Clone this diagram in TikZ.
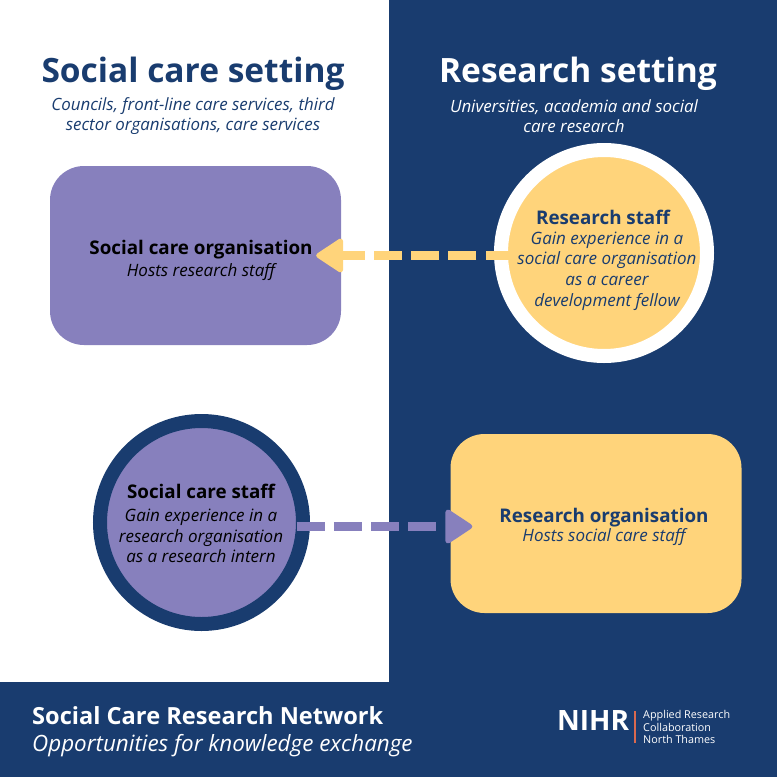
\documentclass[tikz,border=0pt]{standalone}
\usepackage{fontspec}
\setmainfont{Open Sans}
\usepackage{xcolor}
\usetikzlibrary{arrows.meta}
\definecolor{nihrblue}{HTML}{193C6F}
\definecolor{carepurple}{HTML}{8780BD}
\definecolor{resyellow}{HTML}{FFD47B}
\definecolor{nihrorange}{HTML}{D9694F}
\newcommand{\fsize}[2]{\fontsize{#1}{#2}\selectfont}
\tikzset{org box/.style = {rectangle,rounded corners=34pt,minimum width=291pt,minimum height=179pt,inner sep=0pt},
  staff ring/.style = {circle,line width=14pt,inner sep=0pt},
  head text/.style = {font=\fsize{33.5}{40}\bfseries,inner sep=0pt},
  sub text/.style = {font=\fsize{16.9}{20}\itshape,align=center,inner sep=0pt},
  name text/.style = {font=\fsize{18.8}{22}\bfseries,inner sep=0pt},
  body text/.style = {font=\fsize{17}{20.7}\itshape,align=center,inner sep=0pt},
  dash arrow/.style = {line width=9pt,dash pattern=on 28pt off 9.3pt,
    -{Triangle[length=29pt,width=37pt,line width=5pt,round]}}
  }

\begin{document}
\begin{tikzpicture}[x=1pt,y=-1pt]
        \useasboundingbox (0,0) rectangle (777,777);
        \fill[nihrblue] (389,0) rectangle (777,777);
        \fill[nihrblue] (0,682) rectangle (777,777);
        \path (195.5,255.5) node[org box,fill=carepurple] (sorg) {}
        (596,523.5) node[org box,fill=resyellow] (rorg) {}
        (604,253) node[staff ring,draw=white,fill=resyellow,minimum size=206pt] (rstaff) {}
        (201.5,522.5) node[staff ring,draw=nihrblue,fill=carepurple,minimum size=203pt] (sstaff) {};
        \draw[resyellow,dash arrow,shorten <=-19.7pt,shorten >=-25pt] (rstaff.west |- sorg.east) -- (sorg.east);
        \draw[carepurple,dash arrow,shorten <=-13.5pt,shorten >=-22pt] ([yshift=-4pt]sstaff.east) -- ([yshift=-3pt]rorg.west);
        \path (193,74) node[head text,text=nihrblue] (shead) {Social care setting}
        (578,74) node[head text,text=white] (rhead) {Research setting}
        (193,116) node[sub text,text=nihrblue] (ssub) {Councils, front-line care services, third\\sector organisations, care services}
        (574,116) node[sub text,text=white] (rsub) {Universities, academia and social\\care research}
        (201,249.5) node[name text,text=black] (sorgname) {Social care organisation}
        (201,272) node[body text,text=black] (sorgbody) {Hosts research staff}
        (603,217) node[name text,text=nihrblue] (rstaffname) {Research staff}
        (607,271) node[body text,text=nihrblue] (rstaffbody) {Gain experience in a\\social care organisation\\as a career\\development fellow}
        (201,491) node[name text,text=black] (sstaffname) {Social care staff}
        (201,536) node[body text,text=black] (sstaffbody) {Gain experience in a\\research organisation\\as a research intern}
        (604,518) node[name text,text=nihrblue] (rorgname) {Research organisation}
        (604,537) node[body text,text=nihrblue] (rorgbody) {Hosts social care staff};
        \path (32,716) node[anchor=west,inner sep=0pt,text=white,font=\fsize{23.6}{26}\bfseries] (fname) {Social Care Research Network}
        (32,746) node[anchor=west,inner sep=0pt,text=white,font=\fsize{22.4}{24}\itshape] (fsub) {Opportunities for knowledge exchange}
        (557,720) node[anchor=west,inner sep=0pt,text=white,font=\fsize{28}{30}\bfseries] (nihr) {NIHR}
        (643,727) node[anchor=west,inner sep=0pt,align=left,text=white,font=\fsize{10.8}{12.8}] (arc) {Applied Research\\Collaboration\\North Thames};
        \fill[nihrorange] (634,711) rectangle (635.5,743);
        \end{tikzpicture}
\end{document}
